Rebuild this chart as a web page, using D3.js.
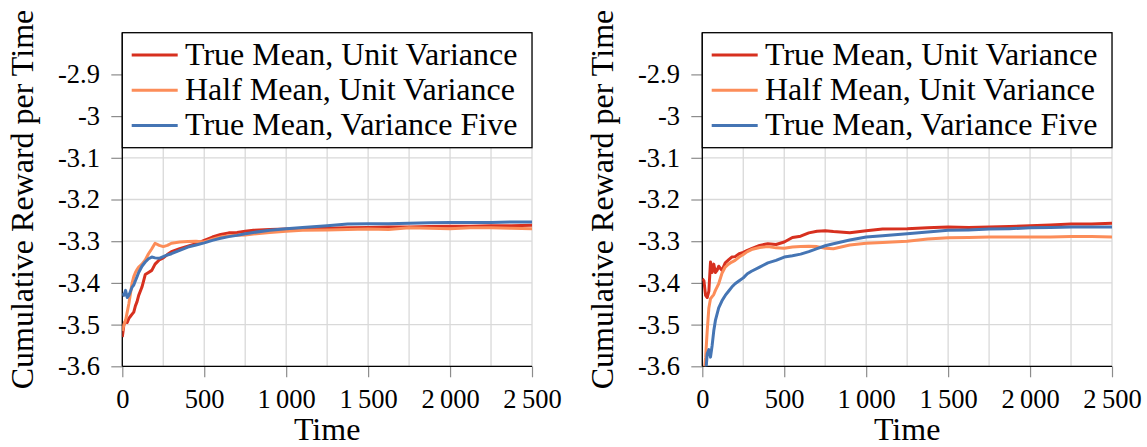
<!DOCTYPE html>
<html>
<head>
<meta charset="utf-8">
<script src="https://cdn.jsdelivr.net/npm/d3@7"></script>
<style>
  body { margin: 0; background: #fff; }
</style>
</head>
<body>
<svg id="chart" width="1147" height="447"></svg>
<script>
// sample times shared by every series
var times = [0, 10, 20, 30, 40, 50, 60, 70, 80, 90, 100, 120, 140, 160, 180, 200, 225, 250, 275, 300,
  350, 400, 450, 500, 550, 600, 650, 700, 750, 800, 900, 1000, 1100, 1250, 1375, 1500, 1625, 1750,
  1875, 2000, 2125, 2250, 2375, 2500];

// left panel
var leftTrueUnit = [-3.53, -3.50, -3.49, -3.495, -3.485, -3.48, -3.475, -3.47, -3.455, -3.445, -3.43,
  -3.41, -3.38, -3.375, -3.37, -3.355, -3.345, -3.34, -3.332, -3.325, -3.318, -3.312, -3.306, -3.298,
  -3.29, -3.284, -3.28, -3.279, -3.276, -3.274, -3.272, -3.271, -3.27, -3.269, -3.268, -3.267, -3.266,
  -3.266, -3.265, -3.264, -3.264, -3.263, -3.263, -3.262];
var leftHalfUnit = [-3.515, -3.50, -3.49, -3.47, -3.45, -3.425, -3.40, -3.385, -3.375, -3.368, -3.362,
  -3.355, -3.345, -3.33, -3.318, -3.305, -3.31, -3.313, -3.31, -3.305, -3.302, -3.301, -3.30, -3.302,
  -3.295, -3.29, -3.287, -3.286, -3.285, -3.283, -3.279, -3.276, -3.274, -3.273, -3.272, -3.271, -3.272,
  -3.268, -3.269, -3.27, -3.268, -3.268, -3.269, -3.27];
var leftTrueFive = [-3.425, -3.43, -3.418, -3.435, -3.43, -3.42, -3.41, -3.405, -3.395, -3.385, -3.375,
  -3.36, -3.35, -3.342, -3.338, -3.34, -3.341, -3.337, -3.333, -3.33, -3.322, -3.314, -3.309, -3.304,
  -3.298, -3.293, -3.289, -3.286, -3.282, -3.279, -3.274, -3.27, -3.267, -3.263, -3.259, -3.258, -3.258,
  -3.257, -3.256, -3.255, -3.255, -3.255, -3.254, -3.254];

// right panel
var rightTrueUnit = [-3.39, -3.395, -3.43, -3.435, -3.42, -3.35, -3.375, -3.355, -3.375, -3.37, -3.36,
  -3.37, -3.352, -3.345, -3.338, -3.337, -3.33, -3.327, -3.322, -3.318, -3.31, -3.306, -3.308, -3.302,
  -3.291, -3.288, -3.28, -3.276, -3.275, -3.277, -3.28, -3.275, -3.271, -3.27, -3.268, -3.266, -3.267,
  -3.266, -3.265, -3.263, -3.261, -3.259, -3.259, -3.257];
var rightHalfUnit = [-3.66, -3.62, -3.58, -3.515, -3.46, -3.438, -3.433, -3.428, -3.418, -3.41, -3.402,
  -3.377, -3.362, -3.355, -3.35, -3.346, -3.338, -3.332, -3.325, -3.32, -3.315, -3.313, -3.316, -3.317,
  -3.314, -3.313, -3.312, -3.313, -3.317, -3.318, -3.309, -3.305, -3.303, -3.30, -3.295, -3.292, -3.291,
  -3.29, -3.29, -3.29, -3.29, -3.289, -3.289, -3.29];
var rightTrueFive = [-3.75, -3.68, -3.62, -3.57, -3.56, -3.578, -3.55, -3.515, -3.49, -3.475, -3.46,
  -3.443, -3.43, -3.42, -3.41, -3.402, -3.395, -3.388, -3.378, -3.372, -3.362, -3.352, -3.346, -3.338,
  -3.335, -3.331, -3.325, -3.318, -3.311, -3.306, -3.297, -3.29, -3.287, -3.282, -3.278, -3.274, -3.273,
  -3.271, -3.27, -3.268, -3.267, -3.266, -3.266, -3.266];

var seriesNames = ["True Mean, Unit Variance", "Half Mean, Unit Variance", "True Mean, Variance Five"];
var colors = ["#d7301f", "#fc8d59", "#4575b4"];
var xTicks = [0, 500, 1000, 1500, 2000, 2500];
var xGrid = d3.range(0, 2501, 250);
var yTicks = [-3.6, -3.5, -3.4, -3.3, -3.2, -3.1, -3, -2.9];

var serif = "'Liberation Serif'";
var svg = d3.select("#chart");

function fmtX(d) {
  var s = String(d);
  return s.length > 3 ? s.slice(0, s.length - 3) + "\u2009" + s.slice(-3) : s;
}

function drawPanel(left, id, data) {
  var x = d3.scaleLinear().domain([0, 2500]).range([left, left + 409.7]);
  var y = d3.scaleLinear().domain([-3.6, -2.8]).range([366.3, 32.7]);
  var g = svg.append("g");

  g.append("clipPath").attr("id", id)
    .append("rect")
    .attr("x", x(0)).attr("y", y(-2.8))
    .attr("width", x(2500) - x(0)).attr("height", y(-3.6) - y(-2.8));

  // grid
  g.append("g").selectAll("line").data(xGrid).enter().append("line")
    .attr("x1", d => x(d)).attr("x2", d => x(d))
    .attr("y1", y(-3.6)).attr("y2", y(-2.8))
    .attr("stroke", "#d9d9d9").attr("stroke-width", 1.3);
  g.append("g").selectAll("line").data(yTicks).enter().append("line")
    .attr("x1", x(0)).attr("x2", x(2500))
    .attr("y1", d => y(d)).attr("y2", d => y(d))
    .attr("stroke", "#d9d9d9").attr("stroke-width", 1.3);

  // axes
  var xAxis = g.append("g")
    .attr("transform", "translate(0," + y(-3.6) + ")")
    .call(d3.axisBottom(x).tickValues(xTicks).tickFormat(fmtX)
      .tickSize(11).tickSizeOuter(0).tickPadding(11.5));
  var yAxis = g.append("g")
    .attr("transform", "translate(" + x(0) + ",0)")
    .call(d3.axisLeft(y).tickValues(yTicks).tickFormat(d => String(d))
      .tickSize(11).tickSizeOuter(0).tickPadding(11.3));
  [xAxis, yAxis].forEach(function(a) {
    a.attr("font-family", null).attr("font-size", null);
    a.select(".domain").remove();
    a.selectAll(".tick line").attr("stroke", "#8c8c8c").attr("stroke-width", 1.2);
    a.selectAll(".tick text").attr("fill", "#000")
      .style("font-family", serif).style("font-size", "26.5px");
  });
  g.append("line")
    .attr("x1", x(0)).attr("x2", x(2500)).attr("y1", y(-3.6)).attr("y2", y(-3.6))
    .attr("stroke", "#000").attr("stroke-width", 1.3);
  g.append("line")
    .attr("x1", x(0)).attr("x2", x(0)).attr("y1", y(-3.6)).attr("y2", y(-2.8))
    .attr("stroke", "#000").attr("stroke-width", 1.3);

  // series
  var line = d3.line().x((d, i) => x(times[i])).y(d => y(d));
  g.append("g").attr("clip-path", "url(#" + id + ")")
    .selectAll("path").data(data).enter().append("path")
    .attr("d", d => line(d))
    .attr("fill", "none")
    .attr("stroke", (d, i) => colors[i])
    .attr("stroke-width", 3)
    .attr("stroke-linejoin", "round");

  // legend
  var lg = g.append("g");
  lg.append("rect")
    .attr("x", x(0)).attr("y", y(-2.8))
    .attr("width", x(2500) - x(0)).attr("height", 115)
    .attr("fill", "#fff").attr("stroke", "#000").attr("stroke-width", 1.3);
  seriesNames.forEach(function(name, i) {
    var cy = y(-2.8) + 22.3 + i * 35.2;
    lg.append("line")
      .attr("x1", x(0) + 9.4).attr("x2", x(0) + 55.4)
      .attr("y1", cy).attr("y2", cy)
      .attr("stroke", colors[i]).attr("stroke-width", 3);
    lg.append("text")
      .attr("x", x(0) + 62.7).attr("y", cy + 9.5)
      .style("font-family", serif).style("font-size", "32px")
      .text(name);
  });

  // axis labels
  g.append("text")
    .attr("x", (x(0) + x(2500)) / 2).attr("y", 440)
    .attr("text-anchor", "middle")
    .style("font-family", serif).style("font-size", "32px")
    .text("Time");
  g.append("text")
    .attr("transform", "translate(" + (x(0) - 89) + "," + ((y(-3.6) + y(-2.8)) / 2) + ") rotate(-90)")
    .attr("text-anchor", "middle")
    .style("font-family", serif).style("font-size", "32px")
    .text("Cumulative Reward per Time");
}

drawPanel(122.3, "clipL", [leftTrueUnit, leftHalfUnit, leftTrueFive]);
drawPanel(702.3, "clipR", [rightTrueUnit, rightHalfUnit, rightTrueFive]);
</script>
</body>
</html>
